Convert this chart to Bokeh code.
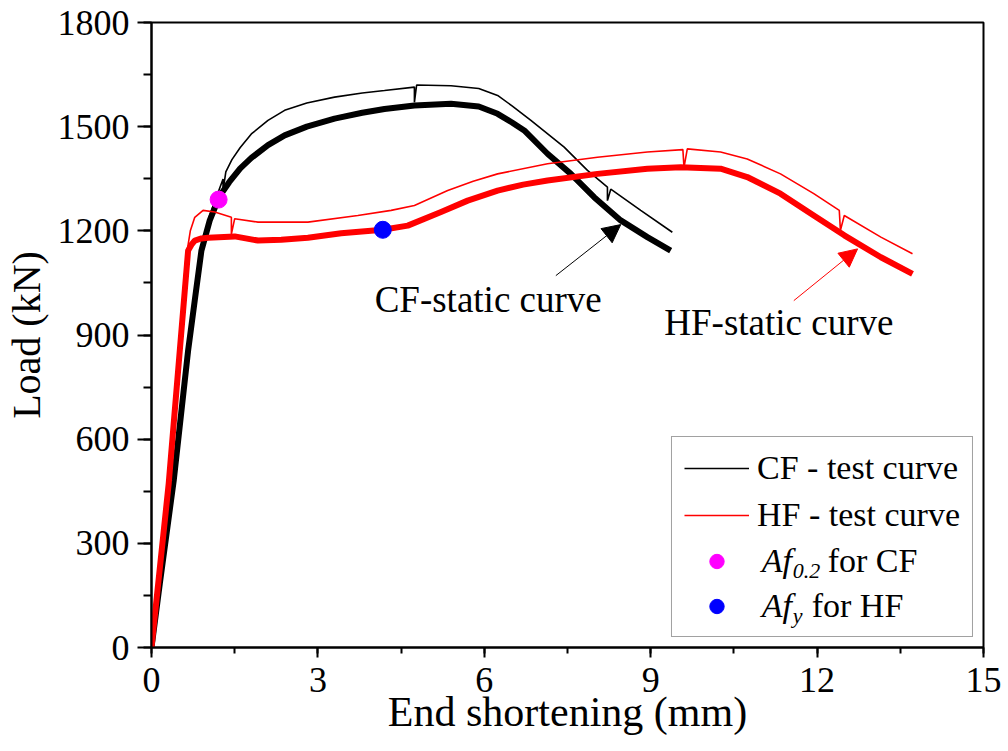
from bokeh.plotting import figure
from bokeh.models import (Range1d, SingleIntervalTicker, Legend, LegendItem, Label,
                          Arrow, NormalHead)
from bokeh.embed import file_html
from bokeh.resources import INLINE

# ---------------- data ----------------
cf_test_x = [0, 0.15, 0.40, 0.66, 0.78, 0.90, 1.05, 1.20, 1.29, 1.29, 1.34, 1.45, 1.60, 1.80,
             2.10, 2.40, 2.80, 3.30, 3.80, 4.20, 4.74, 4.74, 4.78, 5.40, 5.90, 6.24, 6.50,
             6.84, 7.44, 7.86, 8.22, 8.22, 8.28, 8.82, 9.39]
cf_test_y = [0, 190, 490, 870, 1010, 1150, 1245, 1310, 1349, 1316, 1370, 1405, 1440, 1479,
             1518, 1547, 1568, 1585, 1597, 1604, 1614, 1570, 1620, 1618, 1610, 1590, 1560,
             1518, 1441, 1374, 1326, 1287, 1320, 1259, 1196]

cf_static_x = [0, 0.15, 0.40, 0.66, 0.78, 0.90, 1.05, 1.15, 1.26, 1.40, 1.60, 1.80, 2.10, 2.40,
               2.80, 3.30, 3.80, 4.20, 4.74, 5.40, 5.90, 6.24, 6.50, 6.72, 7.14, 7.56, 7.98,
               8.46, 8.94, 9.36]
cf_static_y = [0, 184, 480, 855, 1000, 1143, 1230, 1270, 1307, 1340, 1380, 1410, 1447, 1475,
               1500, 1523, 1540, 1551, 1561, 1566, 1558, 1537, 1512, 1489, 1422, 1364, 1297,
               1230, 1182, 1143]

hf_test_x = [0, 0.30, 0.62, 0.70, 0.78, 0.93, 1.14, 1.44, 1.44, 1.50, 1.92, 2.34, 2.82, 3.72,
             4.32, 4.74, 5.34, 5.80, 6.24, 7.14, 8.04, 8.94, 9.58, 9.60, 9.66, 10.26, 10.74,
             11.34, 11.94, 12.40, 12.42, 12.49, 13.15, 13.72]
hf_test_y = [0, 480, 1120, 1200, 1239, 1259, 1254, 1239, 1191, 1235, 1225, 1225, 1225, 1244,
             1259, 1273, 1316, 1343, 1364, 1393, 1412, 1427, 1434, 1383, 1436, 1427, 1407,
             1364, 1307, 1259, 1201, 1244, 1182, 1134]

hf_static_x = [0, 0.31, 0.66, 0.72, 0.78, 0.90, 1.02, 1.50, 1.92, 2.34, 2.82, 3.42, 4.17, 4.62,
               5.22, 5.70, 6.24, 6.70, 7.14, 8.04, 8.94, 9.54, 10.26, 10.74, 11.34, 11.94,
               12.49, 13.15, 13.72]
hf_static_y = [0, 472, 1143, 1160, 1172, 1178, 1180, 1184, 1172, 1174, 1180, 1193, 1203, 1215,
               1254, 1287, 1316, 1333, 1345, 1364, 1379, 1383, 1379, 1355, 1307, 1244,
               1187, 1124, 1076]

af02_cf_x = [1.21]
af02_cf_y = [1290]
afy_hf_x = [4.17]
afy_hf_y = [1203]

# annotation anchors (data units)
cf_label_xy = (6.07, 1003)
hf_label_xy = (11.31, 936)
cf_arrow = (7.29, 1071, 8.46, 1218)
hf_arrow = (11.58, 999, 12.73, 1148)

FONT = "Liberation Serif"

# ---------------- figure ----------------
W, H = 1008, 751
FL, FR, FT, FB = 150, 983, 22, 647
p = figure(width=W, height=H, output_backend="svg", toolbar_location=None,
           x_range=Range1d(0, 15), y_range=Range1d(0, 1800),
           min_border_left=FL, min_border_right=W - FR, min_border_top=FT,
           min_border_bottom=H - FB, background_fill_color="white",
           border_fill_color="white")
p.grid.visible = False
p.outline_line_color = "black"
p.outline_line_width = 2

p.xaxis.ticker = SingleIntervalTicker(interval=3, num_minor_ticks=2)
p.yaxis.ticker = SingleIntervalTicker(interval=300, num_minor_ticks=2)
p.xaxis.axis_label = "End shortening (mm)"
p.yaxis.axis_label = "Load (kN)"
for ax in (p.xaxis[0], p.yaxis[0]):
    ax.axis_line_width = 2
    ax.major_tick_line_width = 2
    ax.minor_tick_line_width = 2
    ax.major_tick_in = 0
    ax.minor_tick_in = 0
    ax.major_label_text_font = FONT
    ax.major_label_text_font_size = "36px"
    ax.major_label_text_color = "black"
    ax.axis_label_text_font = FONT
    ax.axis_label_text_font_style = "normal"
    ax.axis_label_text_color = "black"
p.xaxis.axis_label_text_font_size = "42px"
p.yaxis.axis_label_text_font_size = "40px"
p.xaxis.major_tick_out = 10
p.xaxis.minor_tick_out = 6
p.xaxis.major_label_standoff = 10
p.xaxis.axis_label_standoff = -6
p.yaxis.major_tick_out = 14
p.yaxis.minor_tick_out = 8
p.yaxis.major_label_standoff = 8
p.yaxis.axis_label_standoff = 6

# ---------------- curves ----------------
r_cf_static = p.line(cf_static_x, cf_static_y, line_color="black", line_width=6,
                     line_join="round")
r_cf_test = p.line(cf_test_x, cf_test_y, line_color="black", line_width=1.6)
r_hf_static = p.line(hf_static_x, hf_static_y, line_color="#ff0000", line_width=6,
                     line_join="round")
r_hf_test = p.line(hf_test_x, hf_test_y, line_color="#ff0000", line_width=1.6)
r_cf_pt = p.scatter(af02_cf_x, af02_cf_y, size=17, color="#ff00ff")
r_hf_pt = p.scatter(afy_hf_x, afy_hf_y, size=17, color="#0000ff")

# ---------------- annotations ----------------
p.add_layout(Arrow(x_start=cf_arrow[0], y_start=cf_arrow[1], x_end=cf_arrow[2], y_end=cf_arrow[3],
                   line_color="black", line_width=1,
                   end=NormalHead(size=18, fill_color="black", line_color="black")))
p.add_layout(Arrow(x_start=hf_arrow[0], y_start=hf_arrow[1], x_end=hf_arrow[2], y_end=hf_arrow[3],
                   line_color="#ff0000", line_width=1,
                   end=NormalHead(size=18, fill_color="#ff0000", line_color="#ff0000")))
p.add_layout(Label(x=cf_label_xy[0], y=cf_label_xy[1], text="CF-static curve",
                   text_font=FONT, text_font_size="37px", text_align="center",
                   text_baseline="alphabetic", text_color="black"))
p.add_layout(Label(x=hf_label_xy[0], y=hf_label_xy[1], text="HF-static curve",
                   text_font=FONT, text_font_size="37px", text_align="center",
                   text_baseline="alphabetic", text_color="black"))

# ---------------- legend ----------------
legend = Legend(items=[
    LegendItem(label="CF - test curve", renderers=[r_cf_test]),
    LegendItem(label="HF - test curve", renderers=[r_hf_test]),
    LegendItem(label=" ", renderers=[r_cf_pt]),
    LegendItem(label=" ", renderers=[r_hf_pt]),
], location="bottom_right", margin=10, padding=12, spacing=9,
    glyph_width=65, glyph_height=36, label_height=36, label_width=201,
    label_standoff=8, label_text_font=FONT, label_text_font_size="34px",
    label_text_color="black", border_line_color="#444444", border_line_width=1.5,
    background_fill_color="white", background_fill_alpha=0)
p.add_layout(legend)

# rich-text labels for the marker rows (pixel layout -> data units)
PXX = (FR - FL) / 15.0
PXY = (FB - FT) / 1800.0
def dx(px):
    return (px - FL) / PXX
def dy(py):
    return (FB - py) / PXY

leg_top = 637 - (2 * 12 + 4 * 36 + 3 * 9)
row3 = leg_top + 12 + 18 + 2 * 45
row4 = leg_top + 12 + 18 + 3 * 45
txt_x = 761
for (row, sub, rest, rest_x) in [(row3, "0.2", "for CF", 827), (row4, "y", "for HF", 811)]:
    base = row - 2
    p.add_layout(Label(x=dx(txt_x), y=dy(base), text="Af", text_font=FONT,
                       text_font_size="34px", text_font_style="italic",
                       text_baseline="alphabetic", text_color="black", level="overlay"))
    p.add_layout(Label(x=dx(txt_x + 31), y=dy(base + 10), text=sub, text_font=FONT,
                       text_font_size="22px", text_font_style="italic",
                       text_baseline="alphabetic", text_color="black", level="overlay"))
    p.add_layout(Label(x=dx(rest_x), y=dy(base), text=rest, text_font=FONT,
                       text_font_size="34px", text_baseline="alphabetic",
                       text_color="black", level="overlay"))

open("out.html", "w").write(file_html(p, INLINE))
